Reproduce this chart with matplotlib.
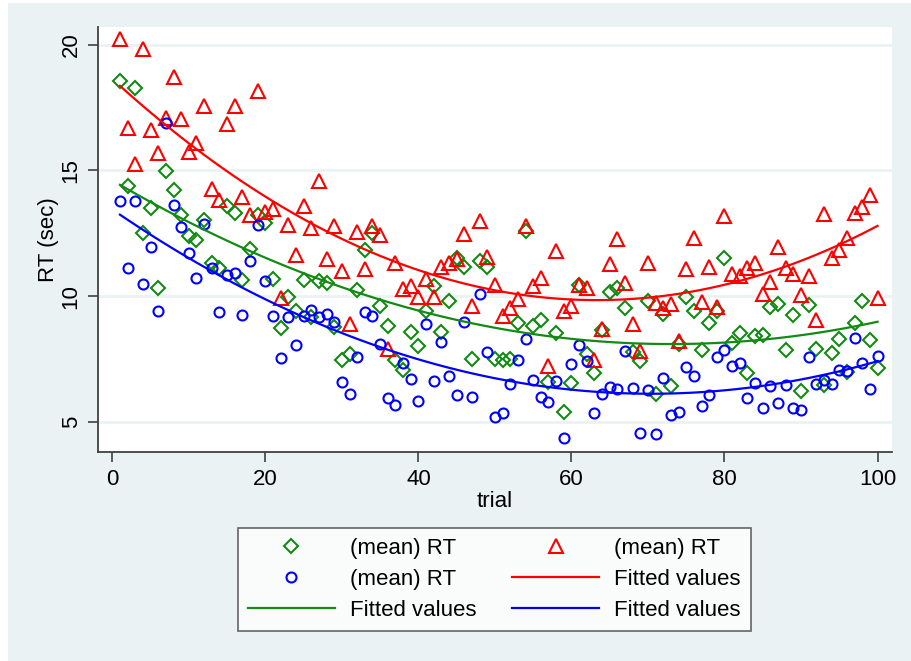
import matplotlib
matplotlib.use("Agg")
import matplotlib.pyplot as plt
from matplotlib.patches import Rectangle
import numpy as np

plt.rcParams['font.family'] = ['Liberation Sans', 'DejaVu Sans']

# trial numbers 1..100
trial = np.arange(1, 101)

# (mean) RT per trial, three conditions
rt_green = [18.57, 14.4, 18.27, 12.53, 13.51, 10.33, 14.97, 14.24, 13.21, 12.4,
            12.24, 13.04, 11.31, 11.11, 13.57, 13.31, 10.64, 11.87, 13.24, 12.91,
            10.67, 8.71, 9.97, 9.4, 10.64, 9.15, 10.61, 10.51, 8.77, 7.44,
            7.71, 10.24, 11.84, 12.51, 9.61, 8.81, 7.44, 7.04, 8.57, 8.01,
            9.4, 10.4, 8.57, 9.8, 11.53, 11.17, 7.51, 11.4, 11.15, 7.5,
            7.44, 7.5, 8.93, 12.6, 8.8, 9.04, 6.57, 8.53, 5.37, 6.53,
            10.44, 7.71, 6.93, 8.64, 10.17, 10.31, 9.51, 7.77, 7.4, 9.81,
            6.11, 9.28, 6.44, 8.11, 9.97, 9.4, 7.84, 8.91, 9.4, 11.51,
            8.13, 8.53, 6.95, 8.4, 8.44, 9.57, 9.68, 7.84, 9.24, 6.21,
            9.64, 7.91, 6.47, 7.73, 8.31, 6.97, 8.91, 9.81, 8.27, 7.15]

rt_red = [20.24, 16.7, 15.24, 19.84, 16.6, 15.7, 17.08, 18.73, 17.04, 15.75,
          16.1, 17.55, 14.28, 13.84, 16.85, 17.55, 13.95, 13.24, 18.17, 13.33,
          13.48, 9.91, 12.83, 11.64, 13.6, 12.73, 14.6, 11.47, 12.8, 11.01,
          8.9, 12.56, 11.08, 12.8, 12.44, 7.9, 11.3, 10.27, 10.4, 9.97,
          10.67, 9.97, 11.15, 11.3, 11.47, 12.48, 9.6, 12.97, 11.57, 10.46,
          9.21, 9.53, 9.87, 12.8, 10.4, 10.7, 7.2, 11.81, 9.4, 9.6,
          10.44, 10.31, 7.44, 8.7, 11.27, 12.27, 10.53, 8.9, 7.81, 11.3,
          9.71, 9.51, 9.68, 8.21, 11.06, 12.31, 9.77, 11.15, 9.55, 13.17,
          10.87, 10.8, 11.11, 11.31, 10.08, 10.57, 11.97, 11.11, 10.87, 10.04,
          10.81, 9.04, 13.28, 11.53, 11.84, 12.33, 13.31, 13.55, 14.01, 9.91]

rt_blue = [13.77, 11.13, 13.8, 10.48, 11.97, 9.4, 16.88, 13.61, 12.75, 11.73,
           10.72, 12.88, 11.11, 9.37, 10.84, 10.93, 9.24, 11.41, 12.84, 10.6,
           9.21, 7.53, 9.17, 8.04, 9.2, 9.44, 9.15, 9.27, 8.97, 6.57,
           6.11, 7.57, 9.37, 9.21, 8.11, 5.93, 5.67, 7.33, 6.71, 5.84,
           8.88, 6.6, 8.17, 6.8, 6.07, 8.95, 5.97, 10.07, 7.77, 5.17,
           5.33, 6.51, 7.44, 8.31, 6.64, 5.97, 5.77, 6.6, 4.37, 7.31,
           8.07, 7.4, 5.33, 6.11, 6.4, 6.31, 7.81, 6.33, 4.55, 6.28,
           4.51, 6.73, 5.28, 5.37, 7.17, 6.8, 5.64, 6.07, 7.57, 7.87,
           7.21, 7.33, 5.93, 6.53, 5.53, 6.44, 5.75, 6.47, 5.53, 5.48,
           7.57, 6.48, 6.64, 6.48, 7.04, 7.01, 8.35, 7.35, 6.31, 7.61]

x_ticks = [0, 20, 40, 60, 80, 100]
y_ticks = [5, 10, 15, 20]

green = '#138a13'
red = '#ff0000'
blue = '#0000ff'
bg = '#eaf2f3'


def qfit(x, y):
    # quadratic fit like stata's qfit
    c = np.polyfit(x, y, 2)
    return np.polyval(c, x)


fig = plt.figure(figsize=(9.11, 6.61), dpi=100)
fig.patch.set_facecolor('white')
fig.patches.append(Rectangle((8 / 911, 0), 1, 1 - 3 / 661, transform=fig.transFigure,
                             facecolor=bg, edgecolor='none', zorder=-10))

ax = fig.add_axes([0.1079, 0.3157, 0.8709, 0.643])
ax.set_facecolor('white')

ms_kw = dict(linestyle='none', markerfacecolor='none', markeredgewidth=1.5)
g_sc, = ax.plot(trial, rt_green, marker='D', markersize=7.2, markeredgecolor=green, zorder=3, **ms_kw)
r_sc, = ax.plot(trial, rt_red, marker='^', markersize=9.5, markeredgecolor=red, zorder=3, **ms_kw)
b_sc, = ax.plot(trial, rt_blue, marker='o', markersize=7.2, markeredgecolor=blue, zorder=3, **ms_kw)
r_fit, = ax.plot(trial, qfit(trial, rt_red), color=red, lw=1.6, zorder=4)
g_fit, = ax.plot(trial, qfit(trial, rt_green), color=green, lw=1.6, zorder=4)
b_fit, = ax.plot(trial, qfit(trial, rt_blue), color=blue, lw=1.6, zorder=4)

ax.set_xlim(-1.83, 101.85)
ax.set_ylim(3.78, 20.70)
ax.set_xticks(x_ticks)
ax.set_yticks(y_ticks)
ax.grid(axis='y', color=bg, lw=2)
ax.set_axisbelow(True)

for s in ['top', 'right']:
    ax.spines[s].set_visible(False)
for s in ['left', 'bottom']:
    ax.spines[s].set_color('#404040')
    ax.spines[s].set_linewidth(1.3)

ax.tick_params(axis='both', direction='out', length=7, width=1.2, color='#404040',
               labelsize=16, pad=5)
plt.setp(ax.get_yticklabels(), rotation=90, va='center')

ax.set_xlabel('trial', fontsize=16, labelpad=1)
ax.set_ylabel('RT (sec)', fontsize=16, labelpad=1)

# stata fills legend row by row, matplotlib column by column
handles = [g_sc, b_sc, g_fit, r_sc, r_fit, b_fit]
labels = ['(mean) RT', '(mean) RT', 'Fitted values',
          '(mean) RT', 'Fitted values', 'Fitted values']
leg = fig.legend(handles, labels, loc='center', bbox_to_anchor=(0.5428, 0.1233),
                 ncol=2, fontsize=16, frameon=True, fancybox=False, numpoints=1,
                 handlelength=3.9, handletextpad=0.7, columnspacing=1.6,
                 labelspacing=0.45, borderpad=0.45)
leg.get_frame().set_edgecolor('#404040')
leg.get_frame().set_linewidth(1.2)

plt.savefig('out.png', dpi=100, facecolor=fig.get_facecolor())
plt.close()
